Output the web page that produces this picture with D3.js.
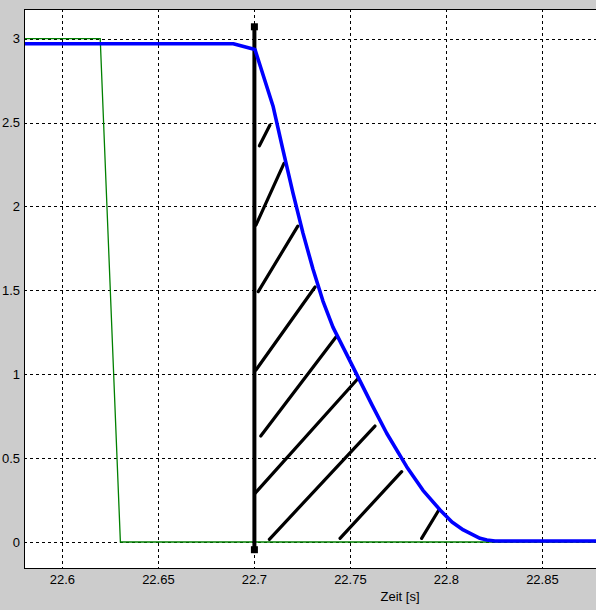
<!DOCTYPE html>
<html lang="en">
<head>
    <meta charset="UTF-8">
    <title>Zeit Plot</title>
    <script src="https://cdn.jsdelivr.net/npm/d3@7"></script>
    <style>
        body { margin: 0; background: #cccccc; }
        text { font-family: "Liberation Sans", Arial, sans-serif; font-size: 13px; fill: #000000; }
    </style>
</head>
<body>
    <div id="canvas"></div>
    <script>

        // data
        const xTicks = [22.6, 22.65, 22.7, 22.75, 22.8, 22.85];
        const yTicks = [0, 0.5, 1, 1.5, 2, 2.5, 3];

        const greenX = [22.58, 22.6197, 22.6302, 22.88];
        const greenY = [3, 3, 0, 0];

        const blueX = [22.58, 22.689, 22.7003, 22.7098, 22.7149, 22.7201, 22.7253, 22.7305,
                       22.7357, 22.7409, 22.7472, 22.7540, 22.7613, 22.7689, 22.7793, 22.7878,
                       22.7967, 22.8029, 22.8088, 22.8175, 22.8211, 22.8253, 22.88];
        const blueY = [2.97, 2.97, 2.936, 2.594, 2.336, 2.080, 1.841, 1.627,
                       1.436, 1.281, 1.138, 0.983, 0.816, 0.648, 0.449, 0.308,
                       0.191, 0.119, 0.072, 0.022, 0.012, 0.006, 0.006];

        const markerX = 22.7;
        const markerY = [3.071, -0.046];

        // hatch strokes: [x0, y0, x1, y1]
        const hatch = [
            [22.7026, 2.362, 22.7081, 2.485],
            [22.7008, 1.889, 22.7154, 2.257],
            [22.7020, 1.492, 22.7226, 1.883],
            [22.7008, 1.025, 22.7316, 1.520],
            [22.7033, 0.632, 22.7429, 1.228],
            [22.7003, 0.290, 22.7541, 0.976],
            [22.7078, 0.016, 22.7628, 0.691],
            [22.7446, 0.022, 22.7767, 0.419],
            [22.7871, 0.022, 22.7963, 0.195]
        ];

        const xLabel = 'Zeit [s]';

        const canvasWidth = 596;
        const canvasHeight = 610;
        const plotLeft = 24;
        const plotTop = 9;
        const plotRight = 600;
        const plotBottom = 568;

        const svg = d3.select('#canvas')
            .append('svg')
            .attr('width', canvasWidth)
            .attr('height', canvasHeight);

        svg.append('rect')
            .attr('width', canvasWidth)
            .attr('height', canvasHeight)
            .attr('fill', '#cccccc');

        const x = d3.scaleLinear().domain([22.58, 22.88]).range([plotLeft, plotRight]);
        const y = d3.scaleLinear().domain([-0.155, 3.177]).range([plotBottom, plotTop]);

        svg.append('clipPath')
            .attr('id', 'clip')
            .append('rect')
            .attr('x', plotLeft)
            .attr('y', plotTop)
            .attr('width', plotRight - plotLeft)
            .attr('height', plotBottom - plotTop);

        // plot area
        svg.append('rect')
            .attr('x', plotLeft)
            .attr('y', plotTop)
            .attr('width', plotRight - plotLeft)
            .attr('height', plotBottom - plotTop)
            .attr('fill', '#ffffff');

        // grid
        const grid = svg.append('g').attr('clip-path', 'url(#clip)');

        grid.selectAll('.vgrid')
            .data(xTicks)
            .enter()
            .append('line')
            .attr('x1', d => Math.round(x(d)) + 0.5)
            .attr('x2', d => Math.round(x(d)) + 0.5)
            .attr('y1', plotTop)
            .attr('y2', plotBottom)
            .attr('stroke', '#000')
            .attr('stroke-width', 1)
            .attr('stroke-dasharray', '3,3');

        grid.selectAll('.hgrid')
            .data(yTicks)
            .enter()
            .append('line')
            .attr('y1', d => Math.round(y(d)) + 0.5)
            .attr('y2', d => Math.round(y(d)) + 0.5)
            .attr('x1', plotLeft)
            .attr('x2', plotRight)
            .attr('stroke', '#000')
            .attr('stroke-width', 1)
            .attr('stroke-dasharray', '3,3');

        const marks = svg.append('g').attr('clip-path', 'url(#clip)');

        const line = d3.line()
            .x(d => x(d[0]))
            .y(d => y(d[1]));

        // green line
        marks.append('path')
            .attr('d', line(greenX.map((v, i) => [v, greenY[i]])))
            .attr('fill', 'none')
            .attr('stroke', '#008000')
            .attr('stroke-width', 1.3);

        // hatch
        marks.selectAll('.hatch')
            .data(hatch)
            .enter()
            .append('line')
            .attr('x1', d => x(d[0]))
            .attr('y1', d => y(d[1]))
            .attr('x2', d => x(d[2]))
            .attr('y2', d => y(d[3]))
            .attr('stroke', '#000')
            .attr('stroke-width', 3.2)
            .attr('stroke-linecap', 'round');

        // vertical marker line
        marks.append('line')
            .attr('x1', x(markerX))
            .attr('x2', x(markerX))
            .attr('y1', y(markerY[0]))
            .attr('y2', y(markerY[1]))
            .attr('stroke', '#000')
            .attr('stroke-width', 4);

        marks.selectAll('.sq')
            .data(markerY)
            .enter()
            .append('rect')
            .attr('x', x(markerX) - 3.5)
            .attr('y', d => y(d) - 3.5)
            .attr('width', 7)
            .attr('height', 7)
            .attr('fill', '#000');

        // blue line
        marks.append('path')
            .attr('d', line(blueX.map((v, i) => [v, blueY[i]])))
            .attr('fill', 'none')
            .attr('stroke', '#0000ff')
            .attr('stroke-width', 3.6)
            .attr('stroke-linejoin', 'round');

        // frame
        svg.append('rect')
            .attr('x', plotLeft + 0.5)
            .attr('y', plotTop + 0.5)
            .attr('width', plotRight - plotLeft)
            .attr('height', plotBottom - plotTop)
            .attr('fill', 'none')
            .attr('stroke', '#000')
            .attr('stroke-width', 1);

        // tick labels
        svg.selectAll('.xlab')
            .data(xTicks)
            .enter()
            .append('text')
            .attr('x', d => x(d))
            .attr('y', 584)
            .attr('text-anchor', 'middle')
            .text(d => d3.format('')(d));

        svg.selectAll('.ylab')
            .data(yTicks)
            .enter()
            .append('text')
            .attr('x', 20)
            .attr('y', d => y(d))
            .attr('dy', '0.35em')
            .attr('text-anchor', 'end')
            .text(d => d3.format('')(d));

        svg.append('text')
            .attr('x', 400)
            .attr('y', 601)
            .attr('text-anchor', 'middle')
            .text(xLabel);

    </script>
</body>
</html>
